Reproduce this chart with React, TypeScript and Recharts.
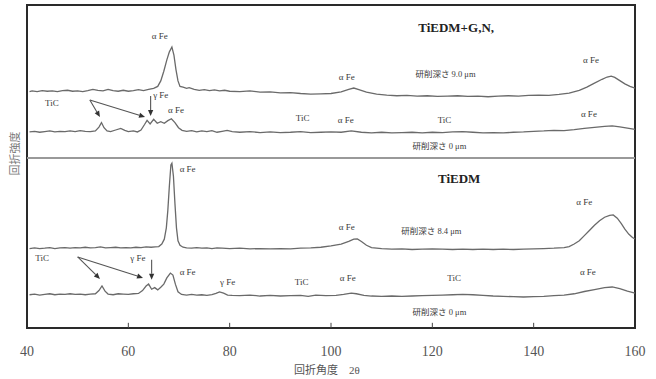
import React from "react"
import { LineChart, Line, XAxis, YAxis, ReferenceLine, ReferenceDot, ReferenceArea, Label } from "recharts"

// 回折角度 2θ の目盛
const xTicks = [40, 60, 80, 100, 120, 140, 160]

// 上段 TiEDM+G,N : 研削深さ 9.0 μm  [2θ, 強度]
const topDeep = [
  [40.5, 73.2], [41, 73.4], [42, 73.2], [43, 73.5], [44, 73.3], [45, 73.4], [46, 73.2], [47, 73.5],
  [48, 73.6], [49, 73.3], [50, 73.4], [51, 73.2], [52, 73.5], [53, 73.9], [54, 73.6], [55, 73.4],
  [56, 73.9], [57, 73.5], [58, 73.3], [59, 73.6], [60, 73.3], [61, 73.5], [62, 73.8], [63, 73.5],
  [64, 73.9], [65, 74.2], [65.8, 74.8], [66.4, 76.5], [67, 79.5], [67.6, 83], [68.1, 85.5], [68.6, 87.0],
  [69.0, 84.5], [69.4, 80], [69.8, 76.5], [70.2, 74.8], [70.8, 74.6], [71.5, 74.2], [72, 74.4], [73, 73.9],
  [74, 73.6], [75, 73.8], [76, 73.5], [77, 73.7], [78, 73.4], [79, 73.6], [80, 73.3], [82, 73.2],
  [84, 73.4], [86, 73.0], [88, 73.1], [90, 72.8], [92, 72.9], [94, 72.6], [96, 72.4], [98, 72.5],
  [100, 72.6], [102, 73.1], [103.5, 73.9], [104.5, 74.3], [105.5, 73.8], [107, 73.0], [109, 72.4], [111, 72.1],
  [113, 71.9], [115, 72.0], [117, 71.8], [119, 71.9], [121, 71.7], [123, 71.8], [125, 71.9], [127, 71.7],
  [129, 71.8], [131, 71.6], [133, 71.8], [135, 71.9], [137, 71.8], [139, 72.0], [141, 72.1], [143, 72.0],
  [145, 72.3], [147, 72.7], [149, 73.6], [150.5, 74.6], [152, 75.8], [153.5, 77.0], [154.5, 77.7], [155.3, 78.0],
  [156, 77.6], [157, 76.6], [158, 75.6], [159, 74.8], [160, 74.3],
]

// 上段 : 研削深さ 0 μm
const topSurface = [
  [40.5, 60.7], [41.5, 60.9], [42.5, 60.6], [43.5, 60.8], [44.5, 61.0], [45.5, 60.7], [46.5, 60.9], [47.5, 60.8],
  [48.5, 61.0], [49.5, 60.8], [50.5, 61.1], [51.5, 60.9], [52.5, 60.8], [53.5, 61.0], [54.2, 62.2], [54.7, 63.6],
  [55.2, 62.0], [55.8, 61.0], [56.5, 60.8], [57.5, 61.3], [58.5, 61.8], [59.3, 61.2], [60, 60.8], [61, 61.0],
  [61.8, 60.7], [62.5, 61.3], [63.2, 63.0], [63.7, 64.3], [64.3, 63.2], [65.0, 64.6], [65.7, 63.4], [66.4, 63.9],
  [67.1, 63.4], [67.8, 64.2], [68.5, 64.8], [69.2, 63.6], [69.9, 62.0], [70.6, 61.2], [71.5, 60.9], [72.5, 61.1],
  [73.5, 60.7], [74.5, 61.0], [75.5, 60.8], [76.5, 61.1], [77.5, 60.6], [78.5, 60.9], [79.5, 61.2], [80.5, 60.8],
  [82, 60.6], [84, 60.8], [86, 60.5], [88, 60.7], [90, 60.5], [92, 60.6], [94, 60.8], [96, 60.5],
  [98, 60.6], [100, 60.7], [102, 60.6], [104, 61.0], [106, 60.6], [108, 60.4], [110, 60.6], [112, 60.4],
  [114, 60.5], [116, 60.6], [118, 60.4], [120, 60.6], [122, 60.5], [124, 60.7], [126, 60.8], [128, 60.6],
  [130, 60.4], [132, 60.5], [134, 60.4], [136, 60.6], [138, 60.7], [140, 60.9], [142, 61.0], [144, 61.2],
  [146, 61.1], [148, 61.4], [150, 61.8], [152, 62.1], [154, 62.4], [155.5, 62.6], [157, 62.3], [158.5, 61.9],
  [160, 61.5],
]

// 下段 TiEDM : 研削深さ 8.4 μm
const bottomDeep = [
  [40.5, 24.6], [41.5, 24.8], [42.5, 24.6], [43.5, 24.7], [44.5, 24.9], [45.5, 24.6], [46.5, 24.8], [47.5, 24.9],
  [48.5, 24.7], [49.5, 24.9], [50.5, 24.8], [51.5, 25.0], [52.5, 24.8], [53.5, 24.9], [54.5, 25.1], [55.5, 24.8],
  [56.5, 24.9], [57.5, 25.0], [58.5, 24.8], [59.5, 24.9], [60.5, 24.8], [61.5, 25.0], [62.5, 24.9], [63.5, 25.1],
  [64.5, 25.0], [65.3, 25.1], [66.0, 25.2], [66.6, 26.0], [67.1, 27.5], [67.5, 31.0], [67.8, 36.5], [68.1, 44.0],
  [68.4, 50.5], [68.6, 51.0], [68.9, 47.0], [69.2, 38.5], [69.5, 31.0], [69.8, 27.0], [70.2, 25.6], [70.8, 25.0],
  [71.5, 24.8], [72.5, 24.7], [73.5, 24.9], [74.5, 24.7], [75.5, 24.8], [76.5, 24.6], [77.5, 24.8], [78.5, 24.7],
  [80, 24.6], [82, 24.7], [84, 24.5], [86, 24.6], [88, 24.5], [90, 24.6], [92, 24.5], [94, 24.7],
  [96, 24.8], [98, 25.0], [100, 25.4], [102, 26.0], [103.5, 26.8], [104.5, 27.5], [105.2, 27.6], [106, 26.8],
  [107, 25.6], [108, 24.9], [110, 24.6], [112, 24.4], [114, 24.5], [116, 24.3], [118, 24.4], [120, 24.5],
  [122, 24.4], [124, 24.3], [126, 24.4], [128, 24.3], [130, 24.4], [132, 24.3], [134, 24.4], [136, 24.3],
  [138, 24.4], [140, 24.5], [142, 24.6], [144, 24.7], [146, 24.9], [147, 25.2], [148, 26.0], [149, 27.0],
  [150, 28.6], [151, 30.2], [152, 31.8], [153, 33.2], [154, 34.3], [155, 34.9], [155.7, 35.0], [156.5, 34.0],
  [157.3, 32.3], [158, 30.6], [158.8, 29.0], [159.5, 28.0], [160, 27.6],
]

// 下段 : 研削深さ 0 μm
const bottomSurface = [
  [40.5, 10.3], [41.5, 10.5], [42.5, 10.2], [43.5, 10.4], [44.5, 10.6], [45.5, 10.3], [46.5, 10.5], [47.5, 10.4],
  [48.5, 10.6], [49.5, 10.4], [50.5, 10.5], [51.5, 10.3], [52.5, 10.5], [53.5, 10.6], [54.2, 11.6], [54.8, 13.0],
  [55.4, 11.4], [56, 10.5], [57, 10.3], [58, 10.6], [59, 10.5], [60, 10.4], [61, 10.6], [62, 10.7],
  [62.8, 11.6], [63.5, 13.0], [64.0, 13.6], [64.6, 12.0], [65.2, 12.5], [65.8, 11.8], [66.4, 12.6], [67.0, 13.6],
  [67.6, 15.5], [68.3, 17.0], [68.8, 16.4], [69.3, 13.5], [69.8, 11.2], [70.5, 10.4], [71.5, 10.2], [72.5, 10.4],
  [73.5, 10.2], [74.5, 10.3], [75.5, 10.1], [76.5, 10.3], [77.3, 10.7], [78.0, 11.2], [78.8, 10.8], [79.6, 10.2],
  [80.5, 10.1], [82, 10.0], [84, 10.2], [86, 9.9], [88, 10.1], [90, 9.9], [92, 10.0], [94, 10.1],
  [95.5, 9.8], [97, 10.2], [99, 10.0], [101, 10.1], [102.5, 10.4], [104, 10.8], [105, 10.6], [106.5, 10.1],
  [108, 9.9], [110, 9.8], [112, 9.9], [114, 9.8], [116, 9.9], [118, 10.0], [120, 10.1], [122, 10.2],
  [124, 10.3], [126, 10.4], [128, 10.3], [130, 10.1], [132, 9.9], [134, 9.8], [136, 9.7], [138, 9.6],
  [140, 9.7], [142, 9.8], [144, 10.0], [146, 10.2], [148, 10.6], [150, 11.3], [152, 11.9], [154, 12.5],
  [155.5, 12.7], [157, 12.2], [158.5, 11.4], [160, 10.8],
]

// 上段と下段の境界
const panelSplit = 52.6

// 注記 [2θ, 強度, 文字, 太字]
const notes: [number, number, string, boolean?][] = [
  [124.7, 92.9, "TiEDM+G,N,", true],
  [66.2, 90.4, "α Fe"],
  [122.6, 78.6, "研削深さ 9.0 μm"],
  [103.1, 77.7, "α Fe"],
  [151.3, 83.0, "α Fe"],
  [44.9, 69.7, "TiC"],
  [66.4, 72.1, "γ Fe"],
  [69.4, 67.5, "α Fe"],
  [94.4, 65.0, "TiC"],
  [102.9, 64.4, "α Fe"],
  [122.4, 64.4, "TiC"],
  [150.9, 66.3, "α Fe"],
  [121.4, 56.3, "研削深さ 0 μm"],
  [125.3, 46.4, "TiEDM", true],
  [71.7, 49.2, "α Fe"],
  [150.0, 39.0, "α Fe"],
  [103.1, 31.3, "α Fe"],
  [119.8, 30.0, "研削深さ 8.4 μm"],
  [43.0, 21.7, "TiC"],
  [61.9, 21.7, "γ Fe"],
  [71.7, 17.3, "α Fe"],
  [79.6, 14.2, "γ Fe"],
  [94.2, 14.2, "TiC"],
  [103.3, 15.5, "α Fe"],
  [124.3, 15.5, "TiC"],
  [150.7, 17.3, "α Fe"],
  [121.4, 5.0, "研削深さ 0 μm"],
]

// 矢印 [始点, 終点]
const arrows: [[number, number], [number, number]][] = [
  [[52.4, 70.6], [54.4, 65.3]],
  [[52.4, 70.6], [63.3, 65.3]],
  [[64.4, 71.8], [64.4, 65.6]],
  [[50.0, 22.0], [54.4, 15.2]],
  [[50.0, 22.0], [62.9, 15.5]],
  [[64.6, 21.1], [64.6, 14.9]],
]

const toPoints = (rows: number[][]) => rows.map(([x, y]) => ({ x, y }))

const serif = "'Liberation Serif', 'Noto Sans CJK JP', serif"
const ink = "#3a3a3a"

const Arrow = (p: any) => {
  const { x1, y1, x2, y2 } = p
  const a = Math.atan2(y2 - y1, x2 - x1)
  const L = 6
  const w = 2.6
  const bx = x2 - L * Math.cos(a)
  const by = y2 - L * Math.sin(a)
  const pts = `${x2},${y2} ${bx - w * Math.sin(a)},${by + w * Math.cos(a)} ${bx + w * Math.sin(a)},${by - w * Math.cos(a)}`
  return (
    <g>
      <line x1={x1} y1={y1} x2={bx} y2={by} stroke="#555" strokeWidth={1.1} />
      <polygon points={pts} fill="#333" />
    </g>
  )
}

const App = () => {
  return (
    <div style={{ position: "absolute", left: 0, top: 0, background: "#fff" }}>
      <LineChart width={656} height={379} margin={{ top: 5, right: 21, left: 0, bottom: 21 }}>
        <XAxis
          dataKey="x"
          type="number"
          domain={[40, 160]}
          ticks={xTicks}
          axisLine={false}
          tickLine={false}
          tickSize={6}
          tickMargin={12}
          height={30}
          tick={{ fontSize: 14, fill: "#555", fontFamily: serif }}
        >
          <Label
            content={(props: any) => {
              const vb = props.viewBox
              return (
                <text x={vb.x + vb.width / 2 - 4} y={vb.y + 42} textAnchor="middle" dominantBaseline="central"
                  fontSize={11} fill="#555" fontFamily={serif}>
                  回折角度　2θ
                </text>
              )
            }}
          />
        </XAxis>
        <YAxis type="number" domain={[0, 100]} width={27} tick={false} axisLine={false} tickLine={false}>
          <Label
            content={(props: any) => {
              const vb = props.viewBox
              const cx = vb.x + 15
              const cy = vb.y + vb.height / 2 - 13
              return (
                <text x={cx} y={cy} textAnchor="middle" dominantBaseline="central" fontSize={11} fill="#777"
                  fontFamily={serif} transform={`rotate(-90 ${cx} ${cy})`}>
                  回折強度
                </text>
              )
            }}
          />
        </YAxis>

        <ReferenceLine y={panelSplit} stroke="#999" strokeWidth={2} />
        {xTicks.slice(1, -1).map((t) => (
          <ReferenceLine key={t} segment={[{ x: t, y: 0 }, { x: t, y: 1.6 }]} stroke="#444" strokeWidth={1} />
        ))}

        <Line data={toPoints(topDeep)} dataKey="y" type="linear" stroke="#6a6a6a" strokeWidth={1.3} dot={false} isAnimationActive={false} />
        <Line data={toPoints(topSurface)} dataKey="y" type="linear" stroke="#6a6a6a" strokeWidth={1.3} dot={false} isAnimationActive={false} />
        <Line data={toPoints(bottomDeep)} dataKey="y" type="linear" stroke="#6a6a6a" strokeWidth={1.3} dot={false} isAnimationActive={false} />
        <Line data={toPoints(bottomSurface)} dataKey="y" type="linear" stroke="#6a6a6a" strokeWidth={1.3} dot={false} isAnimationActive={false} />

        {arrows.map(([s, e], i) => (
          <ReferenceLine key={"a" + i} segment={[{ x: s[0], y: s[1] }, { x: e[0], y: e[1] }]} shape={Arrow} />
        ))}

        {notes.map(([x, y, text, bold], i) => (
          <ReferenceDot
            key={"n" + i}
            x={x}
            y={y}
            r={0}
            shape={(p: any) => (
              <text x={p.cx} y={p.cy} textAnchor="middle" dominantBaseline="central" fill={bold ? "#222" : ink}
                fontFamily={serif} fontWeight={bold ? 700 : 400} fontSize={bold ? 13 : text.startsWith("研") ? 8.5 : 9}>
                {text}
              </text>
            )}
          />
        ))}

        <ReferenceArea x1={40} x2={160} y1={0} y2={100} fill="none" fillOpacity={0} stroke="#2a2a2a" strokeWidth={2} />
      </LineChart>
    </div>
  )
}

export default App
